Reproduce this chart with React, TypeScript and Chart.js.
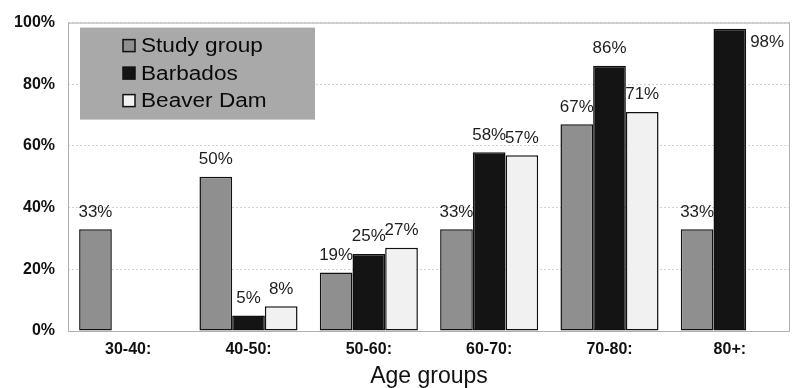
import React, { useEffect, useRef } from "react";
import { Chart, registerables } from "chart.js";

Chart.register(...registerables);

const categories = ["30-40:", "40-50:", "50-60:", "60-70:", "70-80:", "80+:"];
const seriesNames = ["Study group", "Barbados", "Beaver Dam"];
const studyGroup = [33, 50, 19, 33, 67, 33];
const barbados = [null, 5, 25, 58, 86, 98];
const beaverDam = [null, 8, 27, 57, 71, null];
const yTicks = [0, 20, 40, 60, 80, 100];
const xTitle = "Age groups";

const colors = ["#8f8f8f", "#141414", "#f1f1f1"];
const FONT = "'Liberation Sans', Arial, Helvetica, sans-serif";

const framePlugin = {
  id: "frame",
  beforeDatasetsDraw(chart: any) {
    const { ctx, chartArea } = chart;
    ctx.save();
    ctx.strokeStyle = "#b0b0b0";
    ctx.lineWidth = 1;
    ctx.strokeRect(chartArea.left + 0.5, chartArea.top + 0.5, chartArea.right - chartArea.left - 1, chartArea.bottom - chartArea.top);
    ctx.restore();
  },
};

const labelPlugin = {
  id: "valueLabels",
  afterDatasetsDraw(chart: any) {
    const { ctx, chartArea } = chart;
    ctx.save();
    ctx.fillStyle = "#1e1e1e";
    ctx.font = `16px ${FONT}`;
    chart.data.datasets.forEach((ds: any, i: number) => {
      const meta = chart.getDatasetMeta(i);
      meta.data.forEach((el: any, j: number) => {
        const v = ds.data[j];
        if (v === null || v === undefined) return;
        const text = `${v}%`;
        const sx = 1.06;
        const w = ctx.measureText(text).width * sx;
        let x: number, y: number;
        if (el.y - 24 < chartArea.top) {
          x = el.x + el.width / 2 + 4;
          y = el.y + 14;
        } else {
          x = el.x - w / 2;
          y = el.y - 17;
        }
        ctx.save();
        ctx.translate(x, y);
        ctx.scale(sx, 1);
        ctx.textAlign = "left";
        ctx.textBaseline = "middle";
        ctx.fillText(text, 0, 0);
        ctx.restore();
      });
    });
    ctx.restore();
  },
};

const legendPlugin = {
  id: "boxLegend",
  afterDraw(chart: any) {
    const { ctx, chartArea } = chart;
    const bx = chartArea.left + 12;
    const by = chartArea.top + 5;
    ctx.save();
    ctx.fillStyle = "#a9a9a9";
    ctx.fillRect(bx, by, 235, 92);
    chart.data.datasets.forEach((ds: any, i: number) => {
      const cy = by + 18 + i * 27.5;
      const sx = bx + 43;
      ctx.fillStyle = ds.backgroundColor;
      ctx.fillRect(sx, cy - 6, 12, 12);
      ctx.strokeStyle = "#111";
      ctx.lineWidth = 1.5;
      ctx.strokeRect(sx, cy - 6, 12, 12);
      ctx.save();
      ctx.translate(sx + 18, cy + 1);
      ctx.scale(1.13, 1);
      ctx.fillStyle = "#0a0a0a";
      ctx.font = `20px ${FONT}`;
      ctx.textAlign = "left";
      ctx.textBaseline = "middle";
      ctx.fillText(ds.label, 0, 0);
      ctx.restore();
    });
    ctx.restore();
  },
};

export default function App() {
  const canvasRef = useRef<HTMLCanvasElement | null>(null);

  useEffect(() => {
    document.body.style.margin = "0";
    const canvas = canvasRef.current;
    if (!canvas) return;
    const datasets = [studyGroup, barbados, beaverDam].map((d, i) => ({
      label: seriesNames[i],
      data: d,
      backgroundColor: colors[i],
      borderColor: "#111",
      borderWidth: 1.5,
      borderSkipped: false,
      categoryPercentage: 0.815,
      barPercentage: 1,
    }));
    const chart = new Chart(canvas, {
      type: "bar",
      data: { labels: categories, datasets: datasets as any },
      plugins: [framePlugin, labelPlugin, legendPlugin],
      options: {
        animation: false,
        responsive: false,
        maintainAspectRatio: false,
        layout: { padding: { top: 22, right: 2, left: 0, bottom: 0 } },
        plugins: {
          legend: { display: false },
          tooltip: { enabled: false },
        },
        scales: {
          y: {
            min: 0,
            max: 100,
            afterBuildTicks: (s: any) => {
              s.ticks = yTicks.map((v) => ({ value: v }));
            },
            ticks: {
              callback: (v: any) => `${v}%`,
              color: "#111",
              font: { family: FONT, size: 16, weight: "bold" },
              padding: 13,
            },
            grid: { color: "#d2d2d2", drawTicks: false, lineWidth: 1 },
            border: { display: false, dash: [2, 2] },
            afterFit: (s: any) => {
              s.width = 68;
            },
          },
          x: {
            grid: { display: false, drawTicks: false },
            border: { display: false },
            ticks: {
              color: "#111",
              font: { family: FONT, size: 16, weight: "bold" },
              padding: 9,
              maxRotation: 0,
            },
            title: {
              display: true,
              text: xTitle,
              color: "#111",
              font: { family: FONT, size: 23, lineHeight: 1 },
              padding: { top: 0, bottom: 0 },
            },
            afterFit: (s: any) => {
              s.height = 57;
            },
          },
        },
      } as any,
    });
    return () => chart.destroy();
  }, []);

  return (
    <div style={{ width: 792, height: 388 }}>
      <canvas ref={canvasRef} width={792} height={388} style={{ display: "block" }} />
    </div>
  );
}
